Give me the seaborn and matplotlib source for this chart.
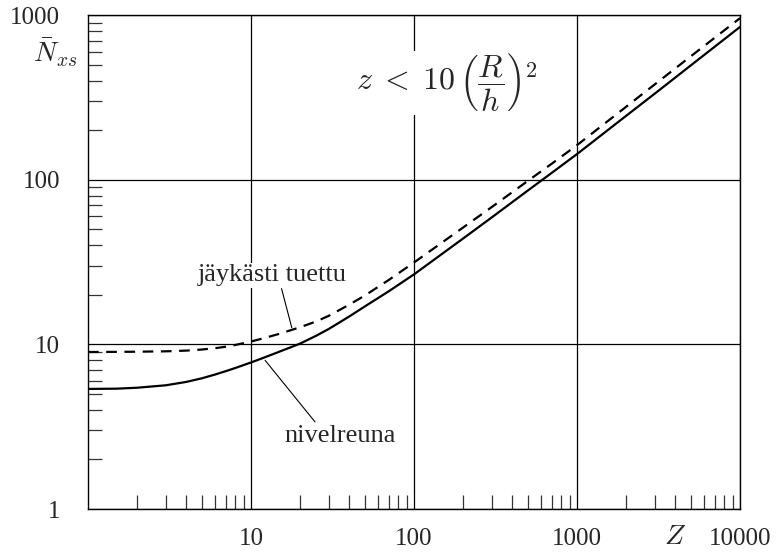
import numpy as np
import pandas as pd
import matplotlib
matplotlib.use("Agg")
import matplotlib.pyplot as plt
import seaborn as sns
from matplotlib.ticker import LogLocator, FixedLocator, FixedFormatter, NullFormatter

# Batdorf parameter Z and buckling coefficient curves
z_values = [1, 1.5, 2, 3, 4, 5, 6, 7, 8, 10, 12, 15, 20, 25, 30, 40, 50, 70,
            100, 200, 300, 500, 700, 1000, 2000, 3000, 5000, 10000]
n_hinged = [5.36, 5.38, 5.45, 5.64, 5.91, 6.22, 6.55, 6.87, 7.18, 7.76, 8.30, 9.04,
            10.1, 11.25, 12.4, 14.75, 17.0, 21.0, 26.6, 43.9, 59.0, 86.0,
            110, 143, 244, 333, 495, 846]
n_clamped = [8.98, 9.0, 9.02, 9.07, 9.16, 9.30, 9.47, 9.67, 9.91, 10.4, 10.9, 11.6,
             12.7, 13.75, 14.9, 17.4, 19.8, 24.6, 31.4, 51.2, 68.2, 98.4,
             125, 162, 277, 379, 562, 957]

x_ticks = [10, 100, 1000, 10000]
x_tick_labels = ["10", "100", "1000", "10000"]
y_ticks = [1, 10, 100, 1000]
y_tick_labels = ["1", "10", "100", "1000"]

label_hinged = "nivelreuna"
label_clamped = "jäykästi tuettu"

sns.set_style("white")
plt.rcParams["font.family"] = ["Liberation Serif", "DejaVu Serif"]
plt.rcParams["mathtext.fontset"] = "cm"

df = pd.DataFrame({
    "Z": z_values * 2,
    "N": n_hinged + n_clamped,
    "tapaus": [label_hinged] * len(z_values) + [label_clamped] * len(z_values),
})

fig = plt.figure(figsize=(7.79, 5.53), dpi=100)
ax = fig.add_axes([88 / 779, 44 / 553, 652 / 779, 494 / 553])

sns.lineplot(data=df[df["tapaus"] == label_hinged], x="Z", y="N", ax=ax,
             color="black", lw=1.6, legend=False)
sns.lineplot(data=df[df["tapaus"] == label_clamped], x="Z", y="N", ax=ax,
             color="black", lw=1.6, legend=False)
ax.lines[-1].set_dashes((4.8, 3.4))
for ln in ax.lines:
    ln.set_solid_joinstyle("round")
    ln.set_dash_capstyle("butt")

ax.set_xscale("log")
ax.set_yscale("log")
ax.set_xlim(1, 10000)
ax.set_ylim(1, 1000)

ax.xaxis.set_major_locator(FixedLocator(x_ticks))
ax.xaxis.set_major_formatter(FixedFormatter(x_tick_labels))
ax.yaxis.set_major_locator(FixedLocator(y_ticks))
ax.yaxis.set_major_formatter(FixedFormatter(y_tick_labels))
for axis in (ax.xaxis, ax.yaxis):
    axis.set_minor_locator(LogLocator(base=10, subs=np.arange(2, 10), numticks=20))
    axis.set_minor_formatter(NullFormatter())

ax.tick_params(which="both", bottom=True, left=True, top=False, right=False)
ax.tick_params(which="major", length=0, labelsize=18, pad=14)
ax.tick_params(axis="y", which="major", pad=20)
ax.tick_params(which="minor", direction="in", length=10, width=0.9, color="#333333")

ax.grid(True, which="major", color="black", lw=0.9)
for side in ax.spines.values():
    side.set_color("black")
    side.set_linewidth(1.0)

ax.set_xlabel("")
ax.set_ylabel("")

# axis titles
ax.text(0.9, -0.058, r"$Z$", transform=ax.transAxes, ha="center", va="center", fontsize=20)
fig.text(55 / 779, 1 - 53 / 553, r"$\bar{N}_{xs}$", ha="center", va="center", fontsize=20)

# validity condition
ax.text(0.551, 0.862, r"$z\;<\;10\,\left(\dfrac{R}{h}\right)^{2}$", transform=ax.transAxes,
        ha="center", va="center", fontsize=23,
        bbox=dict(facecolor="white", edgecolor="none", pad=1))

# curve labels with leader lines
ax.text(13.5, 24.1, label_clamped, ha="center", va="baseline", fontsize=19,
        bbox=dict(facecolor="white", edgecolor="none", pad=1))
ax.annotate("", xy=(17.8, 12.6), xytext=(15.4, 21.8),
            arrowprops=dict(arrowstyle="-", lw=0.8, color="black", shrinkA=0, shrinkB=0))

ax.text(35.2, 2.55, label_hinged, ha="center", va="baseline", fontsize=19,
        bbox=dict(facecolor="white", edgecolor="none", pad=1))
ax.annotate("", xy=(12.2, 8.0), xytext=(24.7, 3.38),
            arrowprops=dict(arrowstyle="-", lw=0.8, color="black", shrinkA=0, shrinkB=0))

fig.savefig("out.png", dpi=100)
